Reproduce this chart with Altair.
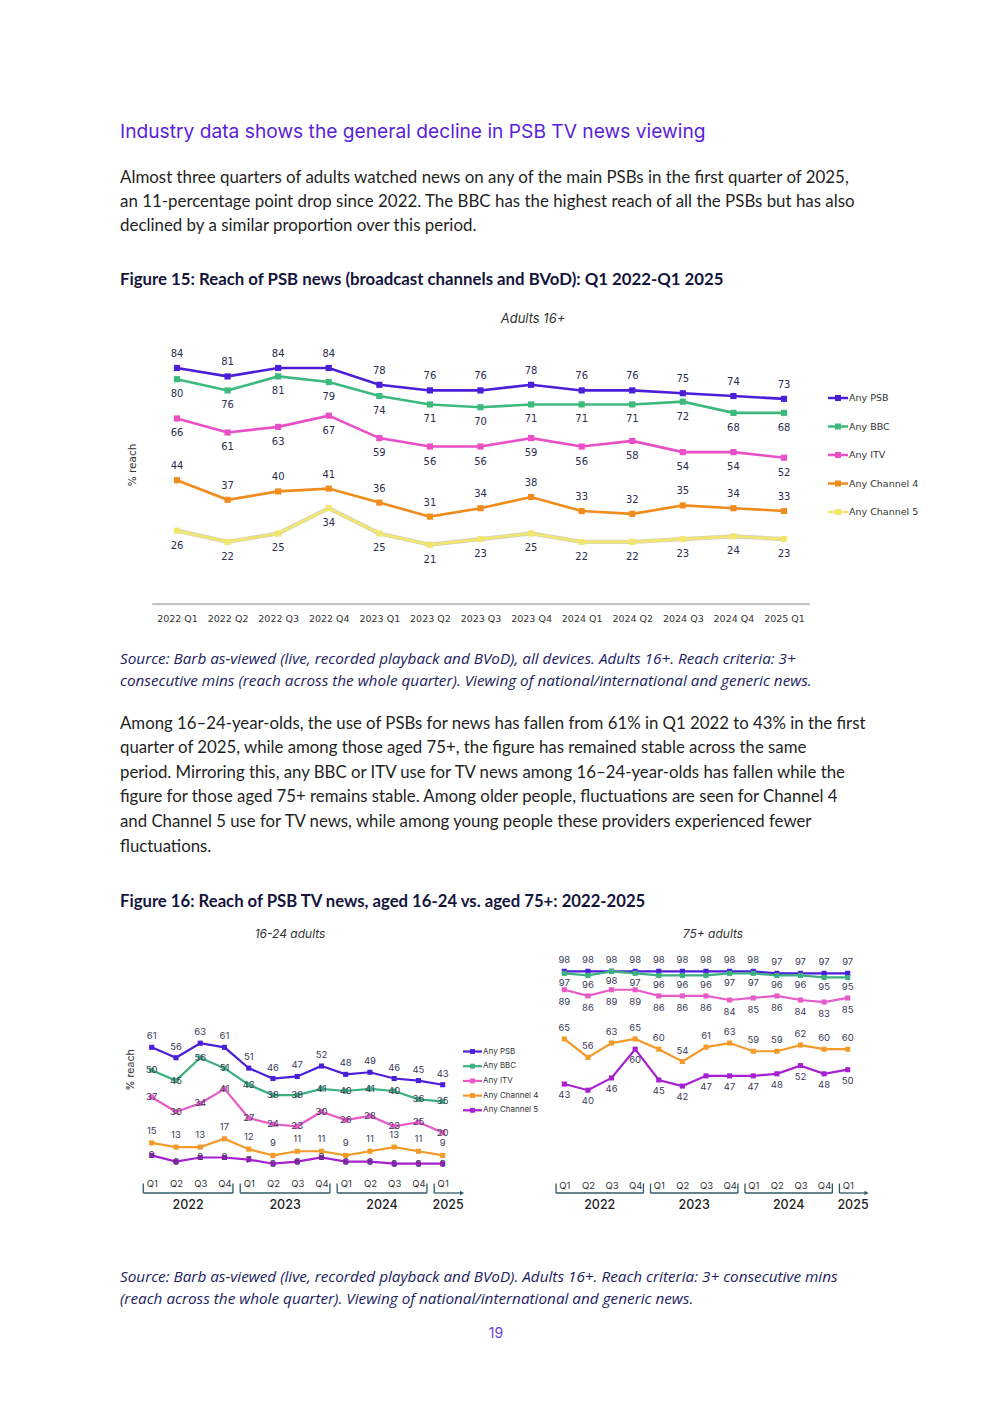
import altair as alt
import pandas as pd

# ---------------- data ----------------
quarters = ["2022 Q1", "2022 Q2", "2022 Q3", "2022 Q4",
            "2023 Q1", "2023 Q2", "2023 Q3", "2023 Q4",
            "2024 Q1", "2024 Q2", "2024 Q3", "2024 Q4",
            "2025 Q1"]
series = ["Any PSB", "Any BBC", "Any ITV", "Any Channel 4", "Any Channel 5"]

adults_psb = [84, 81, 84, 84, 78, 76, 76, 78, 76, 76, 75, 74, 73]
adults_bbc = [80, 76, 81, 79, 74, 71, 70, 71, 71, 71, 72, 68, 68]
adults_itv = [66, 61, 63, 67, 59, 56, 56, 59, 56, 58, 54, 54, 52]
adults_c4 = [44, 37, 40, 41, 36, 31, 34, 38, 33, 32, 35, 34, 33]
adults_c5 = [26, 22, 25, 34, 25, 21, 23, 25, 22, 22, 23, 24, 23]

young_psb = [61, 56, 63, 61, 51, 46, 47, 52, 48, 49, 46, 45, 43]
young_bbc = [50, 45, 56, 51, 43, 38, 38, 41, 40, 41, 40, 36, 35]
young_itv = [37, 30, 34, 41, 27, 24, 23, 30, 26, 28, 23, 25, 20]
young_c4 = [15, 13, 13, 17, 12, 9, 11, 11, 9, 11, 13, 11, 9]
young_c5 = [9, 6, 8, 8, 7, 5, 6, 8, 6, 6, 5, 5, 5]

old_psb = [98, 98, 98, 98, 98, 98, 98, 98, 98, 97, 97, 97, 97]
old_bbc = [97, 96, 98, 97, 96, 96, 96, 97, 97, 96, 96, 95, 95]
old_itv = [89, 86, 89, 89, 86, 86, 86, 84, 85, 86, 84, 83, 85]
old_c4 = [65, 56, 63, 65, 60, 54, 61, 63, 59, 59, 62, 60, 60]
old_c5 = [43, 40, 46, 60, 45, 42, 47, 47, 47, 48, 52, 48, 50]

heading = "Industry data shows the general decline in PSB TV news viewing"
para1 = [
    "Almost three quarters of adults watched news on any of the main PSBs in the first quarter of 2025,",
    "an 11-percentage point drop since 2022. The BBC has the highest reach of all the PSBs but has also",
    "declined by a similar proportion over this period.",
]
fig15_title = "Figure 15: Reach of PSB news (broadcast channels and BVoD): Q1 2022-Q1 2025"
source1 = [
    "Source: Barb as-viewed (live, recorded playback and BVoD), all devices. Adults 16+. Reach criteria: 3+",
    "consecutive mins (reach across the whole quarter). Viewing of national/international and generic news.",
]
para2 = [
    "Among 16\u201324-year-olds, the use of PSBs for news has fallen from 61% in Q1 2022 to 43% in the first",
    "quarter of 2025, while among those aged 75+, the figure has remained stable across the same",
    "period. Mirroring this, any BBC or ITV use for TV news among 16\u201324-year-olds has fallen while the",
    "figure for those aged 75+ remains stable. Among older people, fluctuations are seen for Channel 4",
    "and Channel 5 use for TV news, while among young people these providers experienced fewer",
    "fluctuations.",
]
fig16_title = "Figure 16: Reach of PSB TV news, aged 16-24 vs. aged 75+: 2022-2025"
source2 = [
    "Source: Barb as-viewed (live, recorded playback and BVoD). Adults 16+. Reach criteria: 3+ consecutive mins",
    "(reach across the whole quarter). Viewing of national/international and generic news.",
]
page_number = "19"

colors15 = ["#4b1fd8", "#3cb97c", "#ea4fc6", "#f08c1e", "#f2e66e"]
colors16 = ["#4b1fd8", "#3db07f", "#e85ac8", "#f39a2b", "#a61fd0"]

# ---------------- helpers ----------------
W, H = 976, 1387


def pg(v):
    return v - 8


def long_df(vals):
    rows = []
    for s, arr in zip(series, vals):
        for i, (q, v) in enumerate(zip(quarters, arr)):
            rows.append({"series": s, "idx": i, "quarter": q, "value": v})
    return pd.DataFrame(rows)


df15 = long_df([adults_psb, adults_bbc, adults_itv, adults_c4, adults_c5])
df16y = long_df([young_psb, young_bbc, young_itv, young_c4, young_c5])
df16o = long_df([old_psb, old_bbc, old_itv, old_c4, old_c5])

year_rows = []
for y in sorted(set(q[:4] for q in quarters)):
    idxs = [i for i, q in enumerate(quarters) if q.startswith(y)]
    complete = len(idxs) == 4
    start = idxs[0] - 0.35
    end = idxs[-1] + (0.35 if complete else 0.8)
    year_rows.append({"year": y, "start": start, "end": end, "mid": (start + end) / 2,
                      "complete": complete})
years_df = pd.DataFrame(year_rows)

full_labels = "[" + ",".join("'%s'" % q for q in quarters) + "][datum.value]"
q_labels = "[" + ",".join("'%s'" % q[5:] for q in quarters) + "][datum.value]"

one = pd.DataFrame({"k": [0]})


def text_at(txt, x, y, **kw):
    return alt.Chart(one).mark_text(text=txt, **kw).encode(
        x=alt.value(pg(x)), y=alt.value(pg(y)))


def in_series(names):
    return alt.FieldOneOfPredicate(field="series", oneOf=names)


# ---------------- Figure 15 ----------------
x15 = alt.X("idx:Q",
            scale=alt.Scale(domain=[-0.5, 12.5], range=[pg(151.7), pg(809.3)], nice=False, zero=False),
            axis=alt.Axis(orient="bottom", offset=pg(603.6) - H, values=list(range(13)),
                          labelExpr=full_labels, labelFlush=False, labelOverlap=False,
                          ticks=False, grid=False, domainColor="#c4c4c4", domainWidth=2.2,
                          labelFont="DejaVu Sans", labelFontSize=9.5, labelColor="#333333",
                          labelPadding=10, title=None))
y15 = alt.Y("value:Q",
            scale=alt.Scale(domain=[0, 100], range=[pg(603.6), pg(323.1)], nice=False, zero=False),
            axis=None)
c15 = alt.Color("series:N", scale=alt.Scale(domain=series, range=colors15), legend=None)

base15 = alt.Chart(df15).encode(x=x15, y=y15)
fig15 = alt.layer(
    base15.transform_filter(in_series(["Any Channel 5"])).mark_line(color="#d2d2bf", strokeWidth=4.2),
    base15.mark_line(strokeWidth=2.6).encode(color=c15, detail="series:N"),
    base15.mark_square(size=38, opacity=1).encode(color=c15),
    base15.transform_filter(in_series(["Any PSB", "Any Channel 4"])).mark_text(
        dy=-14, fontSize=10, font="DejaVu Sans", color="#2b2d50").encode(text="value:Q"),
    base15.transform_filter(in_series(["Any BBC", "Any ITV", "Any Channel 5"])).mark_text(
        dy=15, fontSize=10, font="DejaVu Sans", color="#2b2d50").encode(text="value:Q"),
)

leg_df = pd.DataFrame({"series": series})
ly15 = alt.Y("series:N", scale=alt.Scale(type="point", domain=series, range=[pg(398), pg(512)], padding=0),
             axis=None)
lc15 = alt.Color("series:N", scale=alt.Scale(domain=series, range=colors15), legend=None)
leg15 = alt.layer(
    alt.Chart(leg_df).mark_rule(strokeWidth=2.5).encode(
        x=alt.value(pg(828)), x2=alt.value(pg(848)), y=ly15, color=lc15),
    alt.Chart(leg_df).mark_square(size=36, opacity=1).encode(x=alt.value(pg(838)), y=ly15, color=lc15),
    alt.Chart(leg_df).mark_text(align="left", baseline="middle", fontSize=9.5, font="DejaVu Sans",
                                color="#333333").encode(x=alt.value(pg(849)), y=ly15, text="series:N"),
)


# ---------------- Figure 16 ----------------
def fig16_panel(df, xr, yr, axis_y, dys):
    xscale = alt.Scale(domain=[-0.5, 12.5], range=xr, nice=False, zero=False)
    xs = alt.X("idx:Q", scale=xscale,
               axis=alt.Axis(orient="bottom", offset=axis_y - H, values=list(range(13)),
                             labelExpr=q_labels, labelFlush=False, labelOverlap=False,
                             ticks=False, grid=False, domain=False,
                             labelFont="Inter", labelFontSize=9.5, labelColor="#333333",
                             labelPadding=4, title=None))
    ys = alt.Y("value:Q", scale=alt.Scale(domain=[0, 100], range=yr, nice=False, zero=False), axis=None)
    cs = alt.Color("series:N", scale=alt.Scale(domain=series, range=colors16), legend=None)
    base = alt.Chart(df).encode(x=xs, y=ys)
    layers = [
        base.mark_line(strokeWidth=2.2).encode(color=cs, detail="series:N"),
        base.mark_square(size=26, opacity=1).encode(color=cs),
    ]
    for dy in sorted(set(dys.values())):
        names = [s for s in series if dys[s] == dy]
        layers.append(base.transform_filter(in_series(names)).mark_text(
            dy=dy, fontSize=9.5, font="Inter", color="#3a3a5a").encode(text="value:Q"))
    bracket_col = "#2f5a68"
    layers += [
        alt.Chart(years_df).mark_rule(color=bracket_col, strokeWidth=1.3).encode(
            x=alt.X("start:Q", scale=xscale), x2="end:Q", y=alt.value(pg(1193))),
        alt.Chart(years_df).mark_rule(color=bracket_col, strokeWidth=1.3).encode(
            x=alt.X("start:Q", scale=xscale), y=alt.value(pg(1183.5)), y2=alt.value(pg(1193))),
        alt.Chart(years_df).transform_filter("datum.complete").mark_rule(
            color=bracket_col, strokeWidth=1.3).encode(
            x=alt.X("end:Q", scale=xscale), y=alt.value(pg(1183.5)), y2=alt.value(pg(1193))),
        alt.Chart(years_df).transform_filter("!datum.complete").mark_point(
            shape="triangle-right", filled=True, size=22, opacity=1, color=bracket_col).encode(
            x=alt.X("end:Q", scale=xscale), y=alt.value(pg(1193))),
        alt.Chart(years_df).mark_text(fontSize=12.5, font="Inter", fontWeight=500, color="#1f1f1f",
                                      baseline="middle").encode(
            x=alt.X("mid:Q", scale=xscale), y=alt.value(pg(1205)), text="year:N"),
    ]
    return alt.layer(*layers)


fig16y = fig16_panel(
    df16y, [pg(139.6), pg(454.8)], [pg(1174.1), pg(966.3)], pg(1174),
    {"Any PSB": -11, "Any BBC": 0, "Any ITV": 0, "Any Channel 4": -12, "Any Channel 5": 0})
fig16o = fig16_panel(
    df16o, [pg(552.5), pg(859.5)], [pg(1172.2), pg(967.2)], pg(1176),
    {"Any PSB": -11, "Any BBC": 10, "Any ITV": 12, "Any Channel 4": -11, "Any Channel 5": 11})

ly16 = alt.Y("series:N", scale=alt.Scale(type="point", domain=series, range=[pg(1051.5), pg(1110.3)],
                                         padding=0), axis=None)
lc16 = alt.Color("series:N", scale=alt.Scale(domain=series, range=colors16), legend=None)
leg16 = alt.layer(
    alt.Chart(leg_df).mark_rule(strokeWidth=2.2).encode(
        x=alt.value(pg(463)), x2=alt.value(pg(482)), y=ly16, color=lc16),
    alt.Chart(leg_df).mark_square(size=24, opacity=1).encode(x=alt.value(pg(472.5)), y=ly16, color=lc16),
    alt.Chart(leg_df).mark_text(align="left", baseline="middle", fontSize=8, font="Inter",
                                color="#333333").encode(x=alt.value(pg(483)), y=ly16, text="series:N"),
)

# ---------------- page texts ----------------
body_font = "Lato"
src_font = "Open Sans"
texts = alt.layer(
    text_at(heading, 120, 137.5, align="left", baseline="alphabetic", font="Inter", fontSize=19.2,
            color="#5a22dc"),
    text_at(para1, 120, 182.5, align="left", baseline="alphabetic", font=body_font, fontSize=16.9,
            lineHeight=24, color="#1f1f1f"),
    text_at(fig15_title, 120, 284.5, align="left", baseline="alphabetic", font=body_font, fontSize=16.8,
            fontWeight="bold", color="#14143c"),
    text_at("Adults 16+", 533, 322.5, align="center", baseline="alphabetic", font="Inter",
            fontSize=13, fontStyle="italic", color="#333333"),
    text_at("% reach", 133, 465, align="center", baseline="middle", angle=270, font="DejaVu Sans",
            fontSize=10.5, color="#333333"),
    text_at(source1, 120, 664, align="left", baseline="alphabetic", font=src_font, fontSize=15.3,
            fontStyle="italic", lineHeight=22, color="#1c1c5e"),
    text_at(para2, 120, 728.5, align="left", baseline="alphabetic", font=body_font, fontSize=16.8,
            lineHeight=24.6, color="#1f1f1f"),
    text_at(fig16_title, 120, 906.5, align="left", baseline="alphabetic", font=body_font, fontSize=16.7,
            fontWeight="bold", color="#14143c"),
    text_at("16-24 adults", 290, 937.5, align="center", baseline="alphabetic", font="Inter",
            fontSize=12, fontStyle="italic", color="#333333"),
    text_at("75+ adults", 713, 937.5, align="center", baseline="alphabetic", font="Inter",
            fontSize=12, fontStyle="italic", color="#333333"),
    text_at("% reach", 131, 1070, align="center", baseline="middle", angle=270, font="Inter",
            fontSize=10.5, color="#333333"),
    text_at(source2, 120, 1282, align="left", baseline="alphabetic", font=src_font, fontSize=15.3,
            fontStyle="italic", lineHeight=22, color="#1c1c5e"),
    text_at(page_number, 496, 1338, align="center", baseline="alphabetic", font="Inter", fontSize=14,
            color="#6c3fe0"),
)

chart = alt.layer(fig15, leg15, fig16y, leg16, fig16o, texts).resolve_scale(
    x="independent", y="independent", color="independent"
).properties(
    width=W, height=H, autosize=alt.AutoSizeParams(type="none"), padding=0, background="white"
).configure_view(strokeOpacity=0)

chart.save("out.html", embed_options={"renderer": "svg", "actions": False})
